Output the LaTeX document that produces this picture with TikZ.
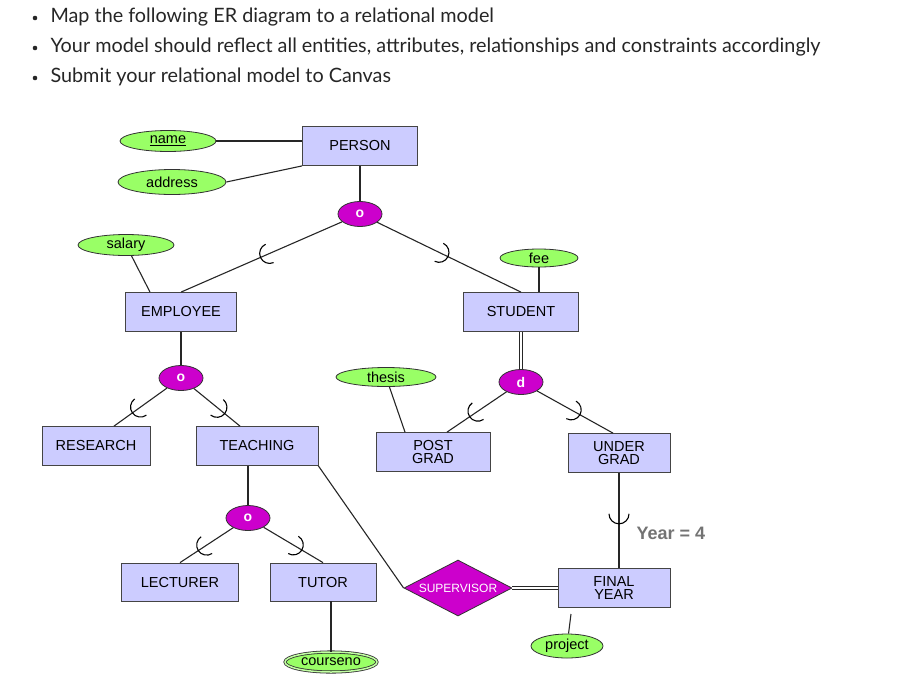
\documentclass[tikz,border=0pt]{standalone}
\usepackage{fontspec}
\setmainfont{Liberation Sans}
\newfontfamily\lato{Lato}
\usetikzlibrary{shapes.geometric,decorations.markings}
\definecolor{boxc}{HTML}{CCCCFF}
\definecolor{attc}{HTML}{99FF66}
\definecolor{magc}{HTML}{CC00CC}
\definecolor{edgec}{HTML}{444444}
\begin{document}
\begin{tikzpicture}[x=1pt,y=-1pt,
  every node/.style={font=\fontsize{14.5}{15}\selectfont},
  ent/.style={draw=edgec,thick,fill=boxc,minimum width=#1,minimum height=39,inner sep=1,align=center,font=\fontsize{14.5}{13}\selectfont},
  att/.style={ellipse,draw=black!80,thick,fill=attc,minimum width=#1,minimum height=21,inner sep=0},
  dj/.style={ellipse,draw=black!80,thick,fill=magc,text=white,minimum width=44,minimum height=25,inner sep=0,font=\bfseries\fontsize{14}{15}\selectfont},
  ln/.style={draw=black!85,line width=1.1},
  sub/.style={ln,postaction={decorate},decoration={markings,mark=at position #1 with {\draw[black,line width=1.1] (0,-10) arc[start angle=-90,end angle=90,radius=10];}}},
  bul/.style={anchor=west,font=\lato\fontsize{19.8}{21}\selectfont,text=black!85}]
\useasboundingbox (0,0) rectangle (919,697);
% bullets
\foreach \y/\t [count=\i] in {17/Map the following ER diagram to a relational model,47/Your model should reflect all entities{,} attributes{,} relationships and constraints accordingly,77/Submit your relational model to Canvas}{
  \node[bul] (b\i) at (47,\y) {\t};
  \fill[black!85] (35,\y+1) circle (2.3);
}
% nodes
\node[ent=115] (person) at (360,146) {PERSON};
\node[att=96] (name) at (168,141) {\underline{name}};
\node[att=108,minimum height=25] (address) at (172,182) {address};
\node[dj] (o1) at (360,214) {o};
\node[att=96] (salary) at (126,245) {salary};
\node[ent=111] (emp) at (181,312) {EMPLOYEE};
\node[att=78,minimum height=18] (fee) at (539,258) {fee};
\node[ent=115] (stu) at (521,312) {STUDENT};
\node[dj] (o2) at (181,378) {o};
\node[att=100,minimum height=19] (thesis) at (386,377) {thesis};
\node[dj] (d) at (521,382) {d};
\node[ent=108] (res) at (96,446) {RESEARCH};
\node[ent=122] (teach) at (257,446) {TEACHING};
\node[ent=114] (pg) at (433,452) {POST\\GRAD};
\node[ent=102] (ug) at (619,453) {UNDER\\GRAD};
\node[dj] (o3) at (248,518) {o};
\node[ent=117,minimum height=38] (lect) at (180,582) {LECTURER};
\node[ent=106,minimum height=38] (tutor) at (323,582) {TUTOR};
\node[att=92,double=attc!60!white,double distance=1.5,draw=black!80,minimum height=20,line width=0.8] (course) at (331,662) {courseno};
\node[diamond,draw=black!80,thick,fill=magc,text=white,minimum width=108,minimum height=56,aspect=1.9,inner sep=0,font=\fontsize{12}{13}\selectfont] (sup) at (458,588) {SUPERVISOR};
\node[ent=112] (fy) at (614,588) {FINAL\\YEAR};
\node[att=72,minimum height=24] (proj) at (567,646) {project};
\node[anchor=west,text=black!55,font=\bfseries\fontsize{18}{20}\selectfont] (yr) at (633,533) {Year = 4};
\coordinate (pj) at (571,614);
% connectors
\draw[ln] (name) -- (person.west|-name);
\draw[ln] (address.east) -- (person.south west);
\draw[ln] (person) -- (o1);
\draw[sub=0.45] (o1) -- (emp.north);
\draw[sub=0.43] (o1) -- (stu.north);
\draw[ln] (salary) -- ([xshift=-31]emp.north);
\draw[ln] (fee) -- (fee|-stu.north);
\draw[ln] (emp) -- (o2);
\draw[sub=0.5] (o2) -- ([xshift=18]res.north);
\draw[sub=0.5] (o2) -- ([xshift=-17]teach.north);
\draw[ln,double,double distance=2] (stu) -- (d);
\draw[ln] (thesis) -- ([xshift=-28]pg.north);
\draw[sub=0.48] (d) -- ([xshift=14]pg.north);
\draw[sub=0.45] (d) -- ([xshift=-6]ug.north);
\draw[ln] (o3|-teach.south) -- (o3);
\draw[sub=0.5] (o3) -- (lect.north);
\draw[sub=0.5] (o3) -- (tutor.north);
\draw[ln] (course.north|-tutor.south) -- (course);
\draw[ln] (teach.south east) -- (sup.west);
\draw[ln,double,double distance=2] (sup.east) -- (fy);
\draw[sub=0.43] (ug.south) -- (ug.south|-fy.north);
\draw[ln] (proj) -- (pj);
\end{tikzpicture}
\end{document}
